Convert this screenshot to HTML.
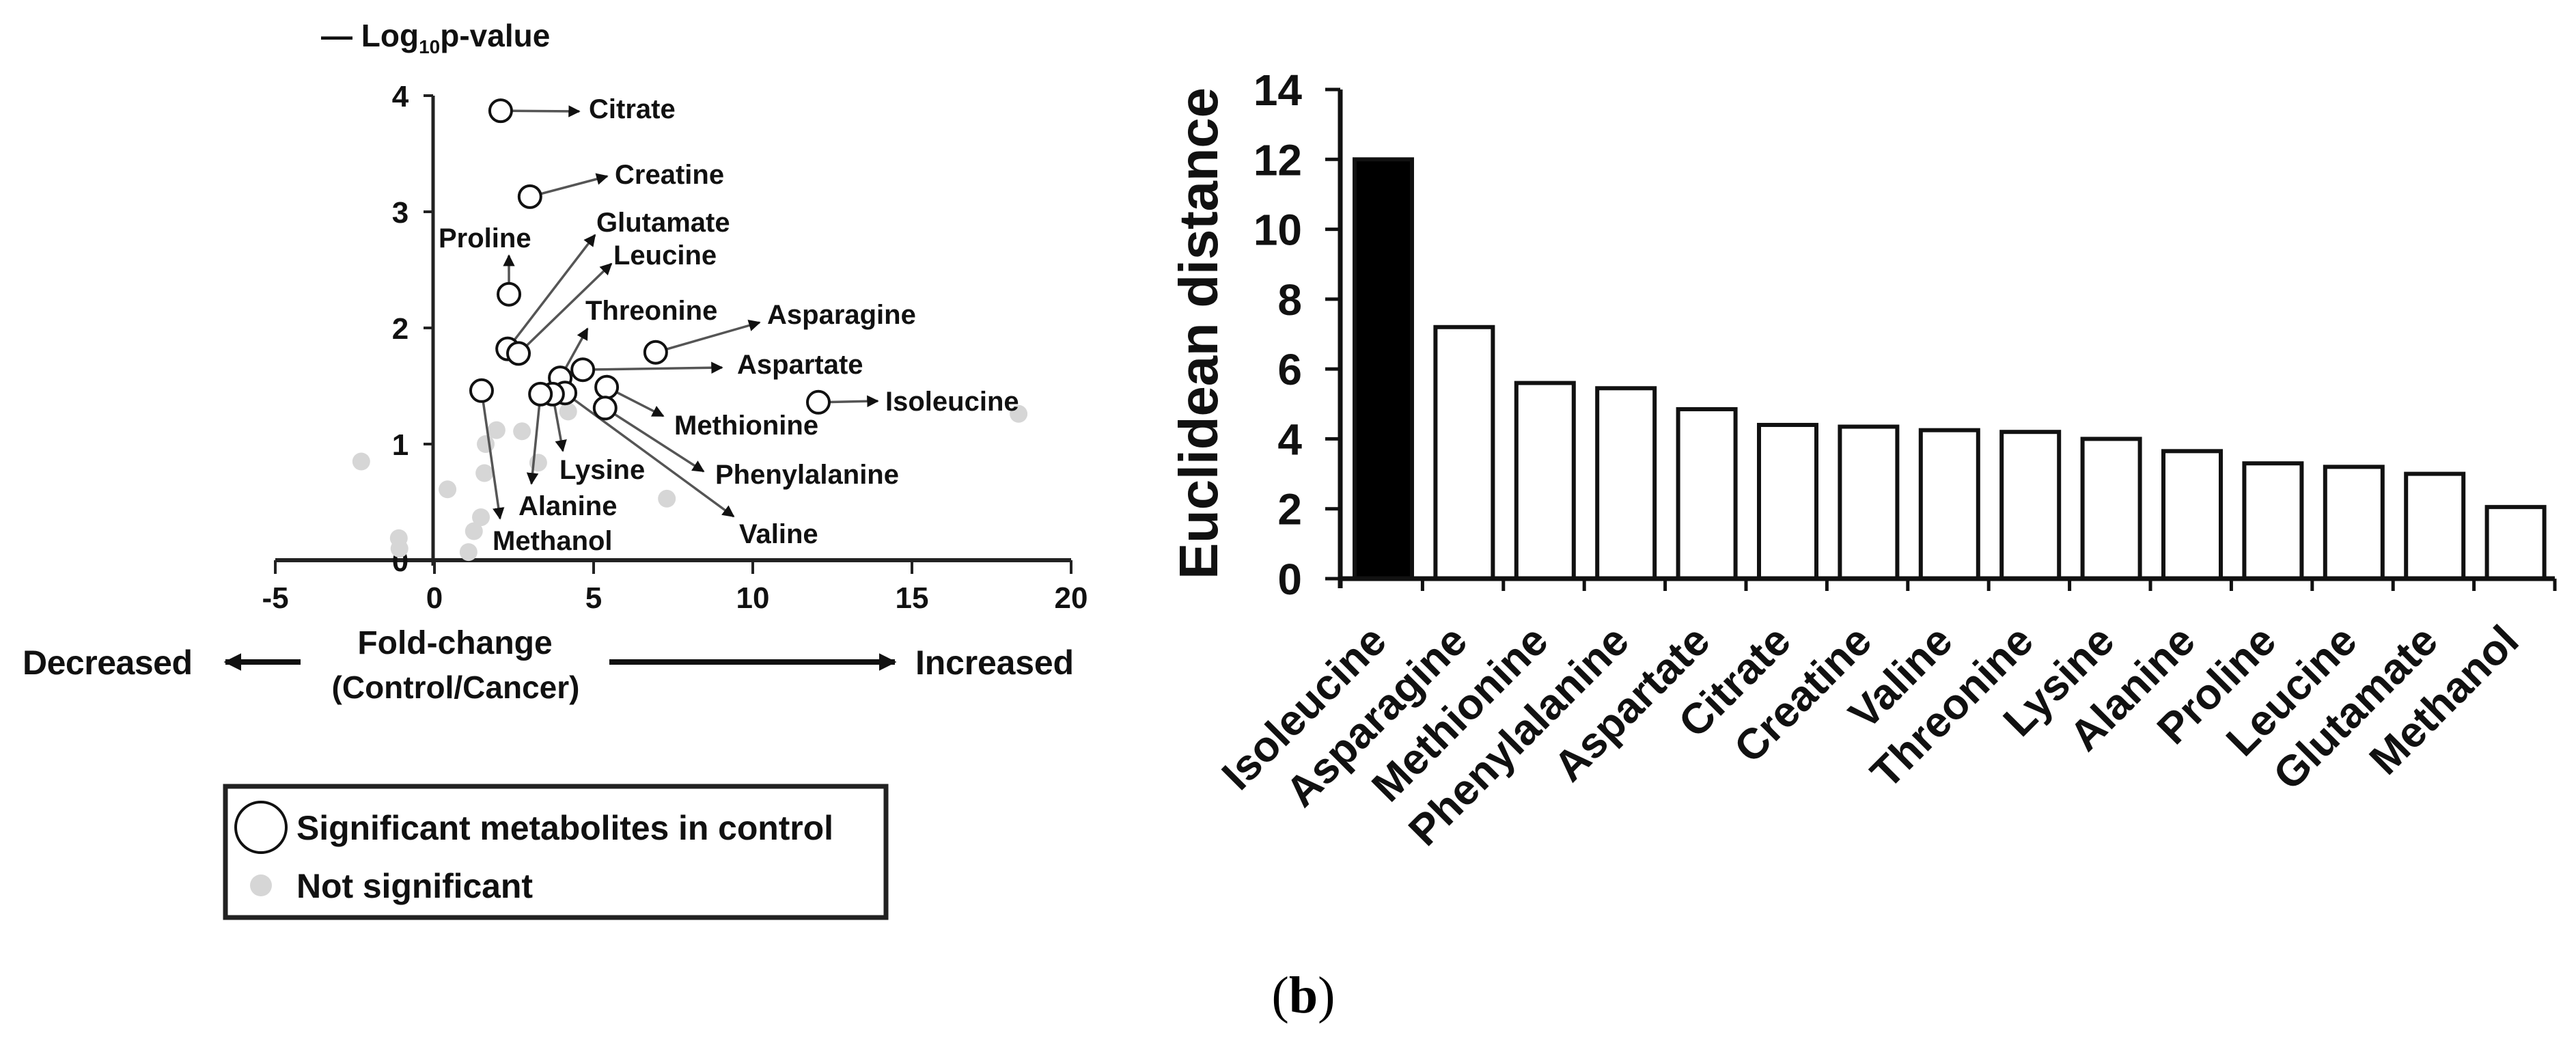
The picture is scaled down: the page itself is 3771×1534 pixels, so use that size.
<!DOCTYPE html>
<html><head><meta charset="utf-8"><style>
html,body{margin:0;padding:0;background:#fff;}
svg{display:block;font-family:"Liberation Sans",Arial,sans-serif;font-weight:bold;}
</style></head><body>
<svg id="fig" width="3771" height="1534" viewBox="0 0 3771 1534" xmlns="http://www.w3.org/2000/svg">
<defs>
<marker id="ah" viewBox="0 0 10 10" refX="9" refY="5" markerWidth="5" markerHeight="5" orient="auto-start-reverse" markerUnits="strokeWidth"><path d="M0,0 L10,5 L0,10 z" fill="#111"/></marker>
<marker id="ahBig" viewBox="0 0 10 10" refX="9" refY="5" markerWidth="3.2" markerHeight="3.2" orient="auto-start-reverse" markerUnits="strokeWidth"><path d="M0,0 L10,5 L0,10 z" fill="#111"/></marker>
</defs>
<g id="volcano"></g>
<g id="bars"></g>
<text x="1908" y="1482" text-anchor="middle" font-family="Liberation Serif, serif" font-weight="normal" font-size="76">(<tspan font-weight="bold">b</tspan>)</text>
</svg>
<script>
// ---------- Volcano data ----------
const sigNames = ["Citrate","Creatine","Proline","Glutamate","Leucine","Threonine","Asparagine","Aspartate","Isoleucine","Methionine","Phenylalanine","Valine","Lysine","Alanine","Methanol"];
const sigFC    = [2.08, 3.0, 2.34, 2.3, 2.64, 3.95, 6.95, 4.66, 12.06, 5.41, 5.36, 4.1, 3.71, 3.33, 1.48];
const sigLogP  = [3.87, 3.13, 2.29, 1.82, 1.78, 1.57, 1.79, 1.64, 1.36, 1.49, 1.31, 1.44, 1.43, 1.43, 1.46];
const nsFC     = [-2.3, 1.95, 2.75, 1.61, 1.57, 3.26, 0.41, 1.46, 1.24, -1.12, 1.07, 4.2, 7.3, 18.35, -1.1];
const nsLogP   = [0.85, 1.12, 1.11, 1.0, 0.75, 0.84, 0.61, 0.37, 0.25, 0.19, 0.07, 1.28, 0.53, 1.26, 0.1];
const xTicks   = [-5, 0, 5, 10, 15, 20];
const yTicks   = [0, 1, 2, 3, 4];
// ---------- Bar data ----------
const barCats  = ["Isoleucine","Asparagine","Methionine","Phenylalanine","Aspartate","Citrate","Creatine","Valine","Threonine","Lysine","Alanine","Proline","Leucine","Glutamate","Methanol"];
const barVals  = [12.0, 7.2, 5.6, 5.45, 4.85, 4.4, 4.35, 4.25, 4.2, 4.0, 3.65, 3.3, 3.2, 3.0, 2.05];
const barTicks = [0, 2, 4, 6, 8, 10, 12, 14];

const NS = "http://www.w3.org/2000/svg";
function mk(tag, attrs, parent, txt){
  const e = document.createElementNS(NS, tag);
  for (const k in attrs) e.setAttribute(k, attrs[k]);
  if (txt !== undefined) e.textContent = txt;
  parent.appendChild(e); return e;
}

// ---------- Volcano ----------
(function(){
  const g = document.getElementById('volcano');
  const X0 = 636, XU = 46.6, Y0 = 820, YU = 170;
  const sx = v => X0 + v*XU, sy = v => Y0 - v*YU;
  let e = mk('line',{x1:sx(-5),y1:Y0,x2:sx(20),y2:Y0,stroke:'#222','stroke-width':6},g);
   
  e = mk('line',{x1:634,y1:sy(4),x2:634,y2:Y0+8,stroke:'#222','stroke-width':5},g);
   
  xTicks.forEach(t=>{
    mk('line',{x1:sx(t),y1:Y0,x2:sx(t),y2:Y0+20,stroke:'#222','stroke-width':4},g);
    const l = mk('text',{x:sx(t),y:890,'text-anchor':'middle','font-size':44,fill:'#111'},g,String(t));
     
  });
  yTicks.forEach(t=>{
    mk('line',{x1:620,y1:sy(t),x2:634,y2:sy(t),stroke:'#222','stroke-width':4},g);
    const l = mk('text',{x:586,y:sy(t)+16,'text-anchor':'middle','font-size':44,fill:'#111'},g,String(t));
     
  });
  const yt = mk('text',{x:470,y:68,'font-size':46,fill:'#111'},g);
   
  yt.innerHTML = '&#8212; Log<tspan font-size="28" dy="10">10</tspan><tspan dy="-10">p-value</tspan>';
  e = mk('text',{x:666,y:957,'text-anchor':'middle','font-size':48,fill:'#111'},g,'Fold-change');
   
  e = mk('text',{x:667,y:1022,'text-anchor':'middle','font-size':46,fill:'#111'},g,'(Control/Cancer)');
   
  e = mk('text',{x:33,y:987,'font-size':50,fill:'#111',textLength:249},g,'Decreased');
   
  e = mk('text',{x:1340,y:987,'font-size':50,fill:'#111',textLength:232},g,'Increased');
   
  e = mk('line',{x1:440,y1:969,x2:330,y2:969,stroke:'#111','stroke-width':8,'marker-end':'url(#ahBig)'},g);
   
  e = mk('line',{x1:892,y1:969,x2:1310,y2:969,stroke:'#111','stroke-width':8,'marker-end':'url(#ahBig)'},g);
   
  nsFC.forEach((v,i)=>{
    const c = mk('circle',{cx:sx(v),cy:sy(nsLogP[i]),r:13,fill:'#d6d6d6'},g);
     
  });
  const lab = {
    Citrate:[862,173,848,163], Creatine:[900,269,889,258], Proline:[642,362,745,374],
    Glutamate:[873,339,871,344], Leucine:[898,387,895,386], Threonine:[857,468,860,481],
    Asparagine:[1123,474,1112,472], Aspartate:[1079,547,1057,538], Isoleucine:[1296,601,1285,587],
    Methionine:[987,636,971,609], Phenylalanine:[1047,708,1030,690], Valine:[1082,795,1074,756],
    Lysine:[819,701,824,660], Alanine:[759,754,778,708], Methanol:[721,805,732,759]
  };
  sigNames.forEach((n,i)=>{
    const L = lab[n], px = sx(sigFC[i]), py = sy(sigLogP[i]);
    const dx = L[2]-px, dy = L[3]-py, d = Math.hypot(dx,dy);
    const a = mk('line',{x1:px+dx/d*17,y1:py+dy/d*17,x2:L[2],y2:L[3],stroke:'#555','stroke-width':3.5,'marker-end':'url(#ah)'},g);
     
  });
  sigNames.forEach((n,i)=>{
    const L = lab[n];
    const c = mk('circle',{cx:sx(sigFC[i]),cy:sy(sigLogP[i]),r:16,fill:'#fff',stroke:'#111','stroke-width':4},g);
     
    const t = mk('text',{x:L[0],y:L[1],'font-size':40,fill:'#111'},g,n);
     
  });
  e = mk('rect',{x:330,y:1151,width:967,height:192,fill:'#fff',stroke:'#222','stroke-width':7},g);
   
  e = mk('circle',{cx:382,cy:1211,r:37,fill:'#fff',stroke:'#111','stroke-width':4},g);
   
  e = mk('text',{x:434,y:1229,'font-size':50,fill:'#111',textLength:786},g,'Significant metabolites in control');
   
  e = mk('circle',{cx:382,cy:1296,r:16,fill:'#d6d6d6'},g);
   
  e = mk('text',{x:434,y:1314,'font-size':50,fill:'#111',textLength:346},g,'Not significant');
   
})();

// ---------- Bars ----------
(function(){
  const g = document.getElementById('bars');
  const AX = 1962, Y0 = 847, YU = (847-131)/14, B0 = 1964, BW = 118.4, W = 84;
  const sy = v => Y0 - v*YU;
  barVals.forEach((v,i)=>{
    const x = B0 + BW*i + 19;
    const r = mk('rect',{x:x,y:sy(v),width:W,height:Y0-sy(v),fill:i===0?'#000':'#fff',stroke:'#111','stroke-width':6},g);
     
    const cx = x + W/2 + 8, cy = 942;
    const t = mk('text',{x:cx,y:cy,'text-anchor':'end','font-size':63,fill:'#111',transform:`rotate(-45 ${cx} ${cy})`},g,barCats[i]);
     
  });
  let e = mk('line',{x1:AX,y1:131,x2:AX,y2:Y0+14,stroke:'#111','stroke-width':7},g);
   
  e = mk('line',{x1:AX-3,y1:Y0,x2:B0+BW*15,y2:Y0,stroke:'#111','stroke-width':7},g);
   
  for (let i=1;i<=15;i++) mk('line',{x1:B0+BW*i,y1:Y0,x2:B0+BW*i,y2:Y0+18,stroke:'#111','stroke-width':5},g);
  barTicks.forEach(t=>{
    mk('line',{x1:AX-22,y1:sy(t),x2:AX,y2:sy(t),stroke:'#111','stroke-width':5},g);
    const l = mk('text',{x:1906,y:sy(t)+23,'text-anchor':'end','font-size':64,fill:'#111'},g,String(t));
     
  });
  const yt = mk('text',{x:1782,y:488,'text-anchor':'middle','font-size':80,fill:'#111',transform:'rotate(-90 1782 488)',textLength:720},g,'Euclidean distance');
   
})();
</script>
</body></html>
